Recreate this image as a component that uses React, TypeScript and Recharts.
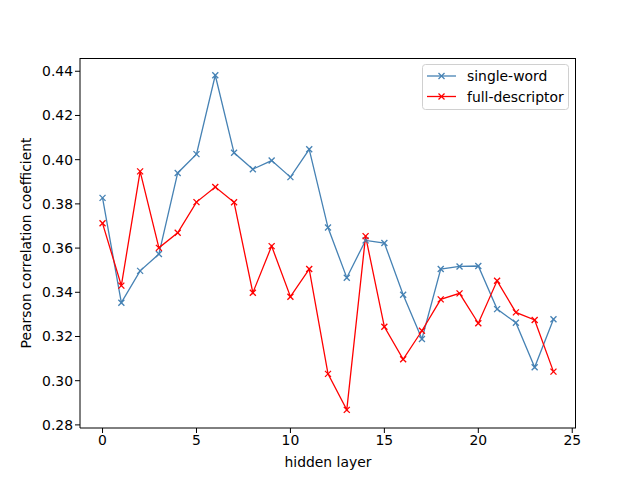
import React from 'react';
import { LineChart, Line, XAxis, YAxis } from 'recharts';

const layers = [0, 1, 2, 3, 4, 5, 6, 7, 8, 9, 10, 11, 12, 13, 14, 15, 16, 17, 18, 19, 20, 21, 22, 23, 24];
const singleWord = [
  0.3827, 0.3353, 0.3497, 0.3573, 0.394, 0.4025, 0.4382, 0.4031, 0.3957, 0.3996, 0.3921, 0.4047, 0.3693,
  0.3466, 0.3635, 0.3623, 0.3389, 0.3189, 0.3505, 0.3517, 0.3519, 0.3324, 0.3262, 0.3061, 0.3278,
];
const fullDescriptor = [
  0.3712, 0.343, 0.3947, 0.3601, 0.3669, 0.3808, 0.3876, 0.3807, 0.3398, 0.3609, 0.338, 0.3505, 0.3031,
  0.2868, 0.3654, 0.3244, 0.3097, 0.3226, 0.3368, 0.3395, 0.326, 0.3452, 0.3309, 0.3275, 0.3041,
];
const xTicks = [0, 5, 10, 15, 20, 25];
const yTicks = [0.28, 0.3, 0.32, 0.34, 0.36, 0.38, 0.4, 0.42, 0.44];

const data = layers.map((layer, i) => ({
  layer,
  single: singleWord[i],
  full: fullDescriptor[i],
}));

const font = '"DejaVu Sans", sans-serif';
const BLUE = '#4682b4';
const RED = '#ff0000';

// plot box, matches the matplotlib axes
const PLOT = { left: 80, top: 58, right: 576, bottom: 428 };

const makeCross = (color: string) => (props: any) => {
  const { cx, cy, index } = props;
  if (cx == null || cy == null) return <g key={index} />;
  const s = 3;
  return (
    <g key={index}>
      <line x1={cx - s} y1={cy - s} x2={cx + s} y2={cy + s} stroke={color} strokeWidth={1.3} />
      <line x1={cx - s} y1={cy + s} x2={cx + s} y2={cy - s} stroke={color} strokeWidth={1.3} />
    </g>
  );
};

const legendItems = [
  { label: 'single-word', color: BLUE, y: 12 },
  { label: 'full-descriptor', color: RED, y: 32.5 },
];

const ChartLegend = () => (
  <svg width={148} height={47} style={{ position: 'absolute', left: 422, top: 64 }}>
    <rect x={0.5} y={0.5} width={146} height={45} rx={3} fill="#fff" stroke="#d0d0d0" />
    {legendItems.map((e) => (
      <g key={e.label}>
        <line x1={5} y1={e.y} x2={34} y2={e.y} stroke={e.color} strokeWidth={1.3} />
        <line x1={16.5} y1={e.y - 3} x2={22.5} y2={e.y + 3} stroke={e.color} strokeWidth={1.3} />
        <line x1={16.5} y1={e.y + 3} x2={22.5} y2={e.y - 3} stroke={e.color} strokeWidth={1.3} />
        <text x={45} y={e.y + 5} fontFamily={font} fontSize={13.9} fill="#000">
          {e.label}
        </text>
      </g>
    ))}
  </svg>
);

export default function App() {
  return (
    <div style={{ position: 'relative', width: 640, height: 480, background: '#fff' }}>
      <style>{`body{margin:0}`}</style>
      <LineChart
        width={640}
        height={480}
        data={data}
        margin={{ top: PLOT.top, right: 640 - PLOT.right, bottom: 0, left: 0 }}
      >
        <XAxis
          dataKey="layer"
          type="number"
          domain={[-1.2, 25.2]}
          ticks={xTicks}
          allowDataOverflow
          height={480 - PLOT.bottom}
          tickSize={5}
          tickLine={{ stroke: '#000' }}
          axisLine={{ stroke: '#000' }}
          tick={{ fill: '#000', fontSize: 13.9, fontFamily: font }}
          label={{ value: 'hidden layer', position: 'insideBottom', offset: 13, fill: '#000', fontSize: 13.9, fontFamily: font }}
        />
        <YAxis
          type="number"
          domain={[0.2786, 0.446]}
          ticks={yTicks}
          allowDataOverflow
          width={PLOT.left}
          tickSize={5}
          tickLine={{ stroke: '#000' }}
          axisLine={{ stroke: '#000' }}
          tickFormatter={(v: number) => v.toFixed(2)}
          tick={{ fill: '#000', fontSize: 13.9, fontFamily: font }}
          label={{
            value: 'Pearson correlation coefficient',
            angle: -90,
            position: 'insideLeft',
            offset: 26,
            style: { textAnchor: 'middle' },
            fill: '#000',
            fontSize: 13.9,
            fontFamily: font,
          }}
        />
        <Line
          dataKey="single"
          name="single-word"
          stroke={BLUE}
          strokeWidth={1.3}
          dot={makeCross(BLUE)}
          activeDot={false}
          isAnimationActive={false}
        />
        <Line
          dataKey="full"
          name="full-descriptor"
          stroke={RED}
          strokeWidth={1.3}
          dot={makeCross(RED)}
          activeDot={false}
          isAnimationActive={false}
        />
      </LineChart>
      {/* top and right spines */}
      <div
        style={{
          position: 'absolute',
          left: PLOT.left,
          top: PLOT.top,
          width: PLOT.right - PLOT.left,
          height: PLOT.bottom - PLOT.top,
          borderTop: '1px solid #000',
          borderRight: '1px solid #000',
          boxSizing: 'border-box',
          pointerEvents: 'none',
        }}
      />
      <ChartLegend />
    </div>
  );
}
